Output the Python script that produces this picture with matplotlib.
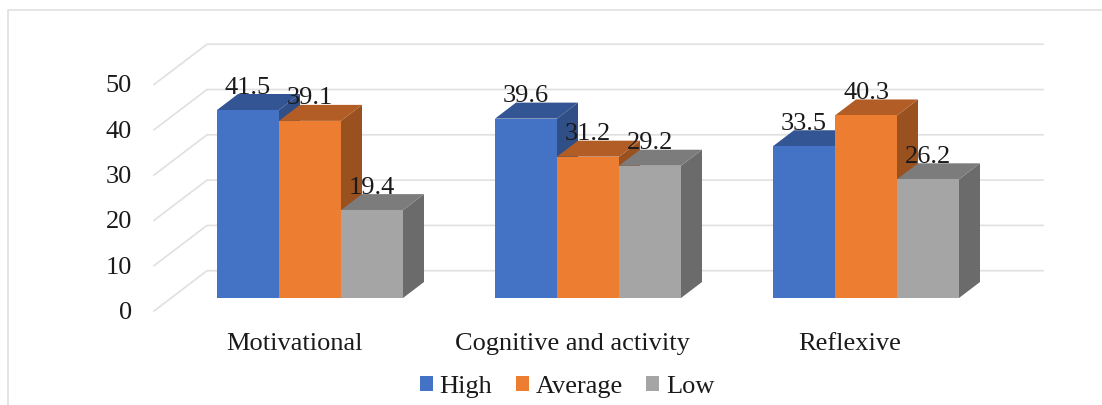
import numpy as np
from matplotlib import pyplot as plt
from matplotlib.lines import Line2D
from matplotlib.patches import Patch

categories = ['Motivational', 'Cognitive and activity', 'Reflexive']
series_names = ['High', 'Average', 'Low']
high = [41.5, 39.6, 33.5]
average = [39.1, 31.2, 40.3]
low = [19.4, 29.2, 26.2]
y_ticks = [0, 10, 20, 30, 40, 50]

front_colors = ['#4472C4', '#ED7D31', '#A5A5A5']
top_colors = ['#335593', '#B25D25', '#7C7C7C']
side_colors = ['#2F4F86', '#9A5120', '#6B6B6B']
grid_color = '#E0E0E0'
text_color = '#1A1A1A'

plt.rcParams['font.family'] = ['Liberation Serif', 'DejaVu Serif']

W, H = 1102, 405
# one category step is 278 px, one value unit is 4.53 px
x_px = 278
y_px = 4.53
x0_px = 310
y0_px = 298

fig = plt.figure(figsize=(W / 100, H / 100), dpi=100)
ax = fig.add_axes([0, 0, 1, 1])
ax.set_xlim(-x0_px / x_px, (W - x0_px) / x_px)
ax.set_ylim((y0_px - H) / y_px, y0_px / y_px)
ax.axis('off')

# 3d look: depth of the bars and of the floor
bar_w = 62 / x_px
dep_x = 21 / x_px
dep_y = 16 / y_px
floor_x0 = (154 - x0_px) / x_px
floor_x1 = (207 - x0_px) / x_px
floor_x2 = (1043 - x0_px) / x_px
floor_y0 = -13 / y_px
floor_y1 = 27.3 / y_px

# walls
for t in y_ticks:
    ax.plot([floor_x0, floor_x1, floor_x2], [t + floor_y0, t + floor_y1, t + floor_y1],
            color=grid_color, lw=1.2, zorder=1)
    ax.text((132 - x0_px) / x_px, t - 21 / y_px, str(t), ha='right', va='baseline',
            fontsize=19, color=text_color, zorder=20)

# bars, back to front left to right
values = [high, average, low]
for c in range(len(categories)):
    for s in range(len(series_names)):
        v = values[s][c]
        left = c + (s - 1.5) * bar_w
        right = left + bar_w
        z = 5 + c * 5 + s
        ax.fill([right, right + dep_x, right + dep_x, right], [0, dep_y, v + dep_y, v],
                color=side_colors[s], lw=0, zorder=z)
        ax.fill([left, left + dep_x, right + dep_x, right], [v, v + dep_y, v + dep_y, v],
                color=top_colors[s], lw=0, zorder=z)
        ax.bar(left, v, bar_w, align='edge', color=front_colors[s], lw=0, zorder=z)
        ax.text(left + bar_w / 2, v + 16.5 / y_px, f'{v:.1f}', ha='center', va='baseline',
                fontsize=19, color=text_color, zorder=30)

for c, name in enumerate(categories):
    ax.text(c - 16 / x_px, -52 / y_px, name, ha='center', va='baseline',
            fontsize=19, color=text_color)

handles = [Patch(color=col, lw=0) for col in front_colors]
ax.legend(handles, series_names, loc='center', bbox_to_anchor=(567 / W, 1 - 387 / H),
          ncol=3, frameon=False, fontsize=19, labelcolor=text_color,
          handlelength=0.5, handleheight=0.5, handletextpad=0.25, columnspacing=0.88,
          borderpad=0, borderaxespad=0)

# chart frame
fig.add_artist(Line2D([7.5 / W, 7.5 / W, 1], [0, 1 - 9.5 / H, 1 - 9.5 / H],
                      color=grid_color, lw=1.2))

plt.savefig('out.png', dpi=100)
plt.close()
